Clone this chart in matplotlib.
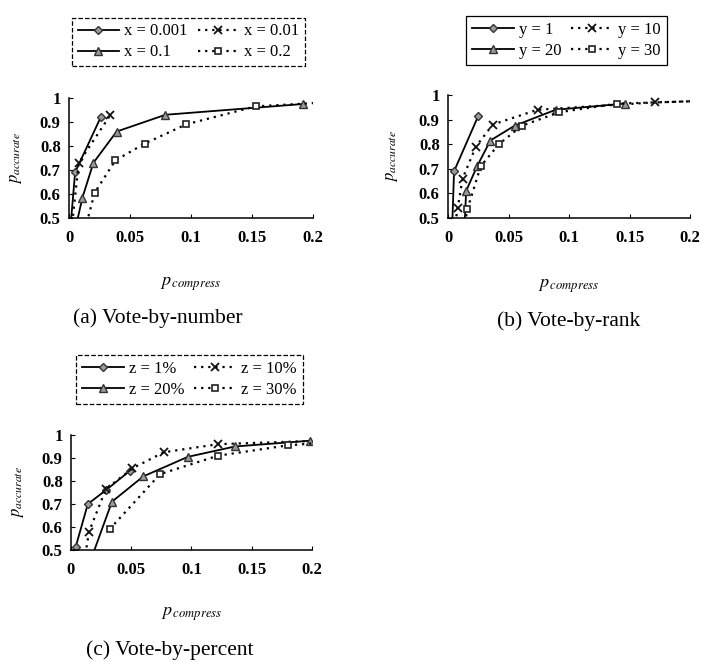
import matplotlib
matplotlib.use('Agg')
import matplotlib.pyplot as plt

plt.rcParams['font.family'] = ['Liberation Serif', 'DejaVu Serif']
plt.rcParams['mathtext.fontset'] = 'stix'

# ---- data (points below 0.5 only carry the line to the axis) ----
# (a) Vote-by-number
a_labels = ['x = 0.001', 'x = 0.01', 'x = 0.1', 'x = 0.2']
a_x1 = [0.001, 0.005, 0.026]
a_y1 = [0.45, 0.69, 0.92]
a_x2 = [0.002, 0.008, 0.034]
a_y2 = [0.45, 0.73, 0.93]
a_x3 = [0.005, 0.011, 0.020, 0.039, 0.079, 0.192]
a_y3 = [0.45, 0.585, 0.73, 0.86, 0.93, 0.975]
a_x4 = [0.013, 0.021, 0.038, 0.062, 0.096, 0.153, 0.205]
a_y4 = [0.45, 0.605, 0.74, 0.81, 0.89, 0.965, 0.98]

# (b) Vote-by-rank
b_labels = ['y = 1', 'y = 10', 'y = 20', 'y = 30']
b_x1 = [0.003, 0.005, 0.025]
b_y1 = [0.40, 0.69, 0.915]
b_x2 = [0.005, 0.008, 0.012, 0.023, 0.037, 0.074, 0.171, 0.205]
b_y2 = [0.45, 0.54, 0.66, 0.79, 0.88, 0.94, 0.97, 0.975]
b_x3 = [0.013, 0.015, 0.024, 0.035, 0.055, 0.089, 0.146]
b_y3 = [0.40, 0.61, 0.71, 0.815, 0.875, 0.94, 0.965]
b_x4 = [0.013, 0.016, 0.027, 0.042, 0.061, 0.092, 0.140, 0.205]
b_y4 = [0.45, 0.535, 0.71, 0.80, 0.875, 0.93, 0.965, 0.975]

# (c) Vote-by-percent
c_labels = ['z = 1%', 'z = 10%', 'z = 20%', 'z = 30%']
c_x1 = [0.004, 0.014, 0.029, 0.049]
c_y1 = [0.515, 0.70, 0.76, 0.845]
c_x2 = [0.011, 0.015, 0.029, 0.051, 0.077, 0.122, 0.205]
c_y2 = [0.45, 0.58, 0.765, 0.855, 0.925, 0.96, 0.975]
c_x3 = [0.016, 0.034, 0.060, 0.097, 0.136, 0.198]
c_y3 = [0.45, 0.71, 0.82, 0.905, 0.95, 0.975]
c_x4 = [0.032, 0.074, 0.122, 0.180, 0.205]
c_y4 = [0.59, 0.83, 0.91, 0.955, 0.965]

xticks = [0, 0.05, 0.1, 0.15, 0.2]
xticklabels = ['0', '0.05', '0.1', '0.15', '0.2']
yticks = [0.5, 0.6, 0.7, 0.8, 0.9, 1.0]
yticklabels = ['0.5', '0.6', '0.7', '0.8', '0.9', '1']

STYLES = [
    dict(ls='-', marker='D', ms=4.5, mfc='#9a9a9a', mec='#333333', lw=1.3),
    dict(ls=(0, (1, 2.2)), marker='x', ms=6, mec='#111111', mew=1.3, lw=1.6),
    dict(ls='-', marker='^', ms=6, mfc='#9a9a9a', mec='#333333', lw=1.3),
    dict(ls=(0, (1, 2.2)), marker='s', ms=5, mfc='white', mec='#222222', mew=1.2, lw=1.6),
]

fig = plt.figure(figsize=(7.02, 6.62), dpi=100)


def panel(rect, series, labels, leg_center, leg_ls, caption, cap_xy, ylab_x):
    ax = fig.add_axes(rect)
    handles = []
    for (xs, ys), st in zip(series, STYLES):
        keep = [i for i, (xx, yy) in enumerate(zip(xs, ys)) if yy >= 0.5 and xx <= 0.2]
        h, = ax.plot(xs, ys, color='black', markevery=keep, **st)
        handles.append(h)
    ax.set_xlim(0, 0.2)
    ax.set_ylim(0.5, 1.0)
    ax.set_xticks(xticks)
    ax.set_xticklabels(xticklabels, fontsize=12, fontweight='bold')
    ax.set_yticks(yticks)
    ax.set_yticklabels(yticklabels, fontsize=12, fontweight='bold')
    ax.tick_params(axis='x', direction='in', length=3, pad=9)
    ax.tick_params(axis='y', direction='in', length=3, pad=6)
    for s in ('top', 'right'):
        ax.spines[s].set_visible(False)
    for s in ('left', 'bottom'):
        ax.spines[s].set_linewidth(1.1)
    ax.set_xlabel(r'$p_{\,compress}$', fontsize=13)
    ax.xaxis.set_label_coords(0.5, -0.48)
    ax.set_ylabel(r'$p_{accurate}$', fontsize=12)
    ax.yaxis.set_label_coords(ylab_x, 0.5)

    # row 1: series 1, 2 ; row 2: series 3, 4 (legend fills column by column)
    order = [0, 2, 1, 3]
    leg = fig.legend([handles[i] for i in order], [labels[i] for i in order],
                     ncol=2, loc='center',
                     bbox_to_anchor=leg_center, bbox_transform=fig.transFigure,
                     fontsize=12, numpoints=1, handlelength=2.5, handletextpad=0.3,
                     columnspacing=0.6, labelspacing=0.3, borderpad=0.35,
                     fancybox=False, framealpha=1, edgecolor='black')
    leg.get_frame().set_linewidth(0.9)
    leg.get_frame().set_linestyle(leg_ls)
    fig.text(cap_xy[0], cap_xy[1], caption, fontsize=15.5, ha='center', va='center')
    return ax


panel([0.0983, 0.6707, 0.3476, 0.1813],
      [(a_x1, a_y1), (a_x2, a_y2), (a_x3, a_y3), (a_x4, a_y4)], a_labels,
      (0.2685, 0.9366), '--', '(a) Vote-by-number', (158 / 702, 1 - 318 / 662), -0.185)

panel([0.6382, 0.6707, 0.3447, 0.1858],
      [(b_x1, b_y1), (b_x2, b_y2), (b_x3, b_y3), (b_x4, b_y4)], b_labels,
      (0.807, 0.9388), '-', '(b) Vote-by-rank', (569 / 702, 1 - 321 / 662), -0.2)

panel([0.1011, 0.1692, 0.3433, 0.1737],
      [(c_x1, c_y1), (c_x2, c_y2), (c_x3, c_y3), (c_x4, c_y4)], c_labels,
      (0.27, 0.4267), '--', '(c) Vote-by-percent', (170 / 702, 1 - 650 / 662), -0.185)

fig.savefig('out.png', dpi=100, facecolor='white')
